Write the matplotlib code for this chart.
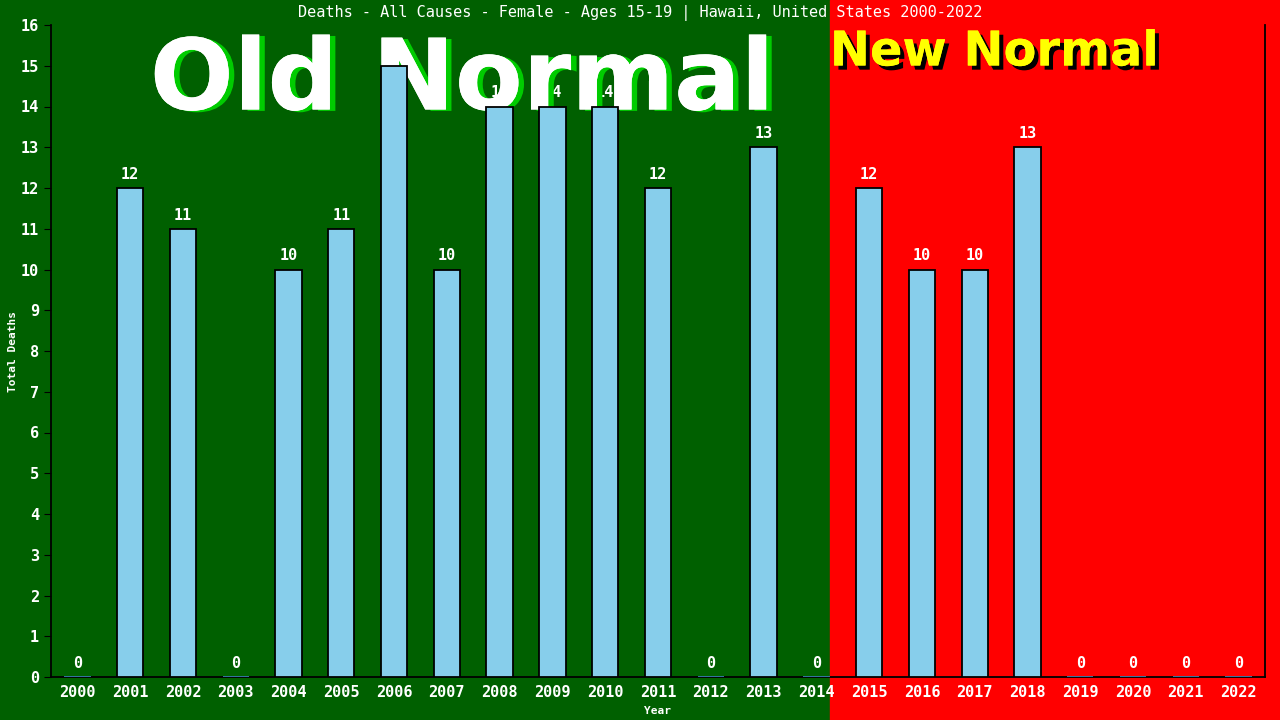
import matplotlib
matplotlib.use('Agg')
import matplotlib.pyplot as plt
import matplotlib.patheffects as pe

years = [str(y) for y in range(2000, 2023)]
deaths = [0, 12, 11, 0, 10, 11, 15, 10, 14, 14, 14, 12, 0, 13, 0, 12, 10, 10, 13, 0, 0, 0, 0]
title = 'Deaths - All Causes - Female - Ages 15-19 | Hawaii, United States 2000-2022'

GREEN = '#006000'
RED = '#ff0000'
BAR = '#87ceeb'
MONO = 'DejaVu Sans Mono'

fig = plt.figure(figsize=(12.8, 7.2), dpi=100)
fig.patch.set_facecolor(GREEN)
# red background for the "new normal" part
fig.patches.append(plt.Rectangle((830 / 1280, 0), 1 - 830 / 1280, 1,
                                 transform=fig.transFigure, color=RED, zorder=-1))

ax = fig.add_axes([51 / 1280, 43 / 720, (1265 - 51) / 1280, (677 - 25) / 720])
ax.set_facecolor('none')

x = list(range(len(years)))
edges = ['black' if d > 0 else '#3a80b0' for d in deaths]
ax.bar(x, deaths, width=0.5, color=BAR, edgecolor=edges, linewidth=1.3, zorder=5)
for xi, d in zip(x, deaths):
    ax.text(xi, d + 0.15, str(d), ha='center', va='bottom', color='white',
            fontsize=11, family=MONO, fontweight='bold', zorder=2)

ax.set_xlim(-0.5, 22.5)
ax.set_ylim(0, 16)
ax.set_xticks(x)
ax.set_xticklabels(years)
ax.set_yticks(range(0, 17))
ax.tick_params(axis='x', length=0, colors='white', labelsize=11, pad=6)
ax.tick_params(axis='y', length=5, color='black', labelcolor='white', labelsize=11)
for lab in ax.get_xticklabels() + ax.get_yticklabels():
    lab.set_family(MONO)
    lab.set_fontweight('bold')
ax.spines['top'].set_visible(False)
for s in ['left', 'bottom', 'right']:
    ax.spines[s].set_color('black')
    ax.spines[s].set_linewidth(1.3)

ax.set_xlabel('Year', color='white', fontsize=8, family=MONO, fontweight='bold', labelpad=4)
ax.set_ylabel('Total Deaths', color='white', fontsize=8, family=MONO, fontweight='bold', labelpad=2)

fig.text(0.5, 1 - 13 / 720, title, ha='center', va='center', color='white',
         fontsize=11, family=MONO)

ax.text(462 / 1280, 1 - 82 / 720, 'Old Normal', ha='center', va='center',
        color='white', fontsize=71, fontweight='bold', family='DejaVu Sans', zorder=3,
        transform=fig.transFigure, clip_on=False,
        path_effects=[pe.withSimplePatchShadow(offset=(4, -1), shadow_rgbFace='#00cc00', alpha=1),
                      pe.Normal()])
ax.text(994 / 1280, 1 - 52 / 720, 'New Normal', ha='center', va='center',
        color='#ffff00', fontsize=34.5, fontweight='bold', family='DejaVu Sans', zorder=3,
        transform=fig.transFigure, clip_on=False,
        path_effects=[pe.withSimplePatchShadow(offset=(3, -3), shadow_rgbFace='black', alpha=1),
                      pe.Normal()])

fig.savefig('out.png', dpi=100, facecolor=fig.get_facecolor())
